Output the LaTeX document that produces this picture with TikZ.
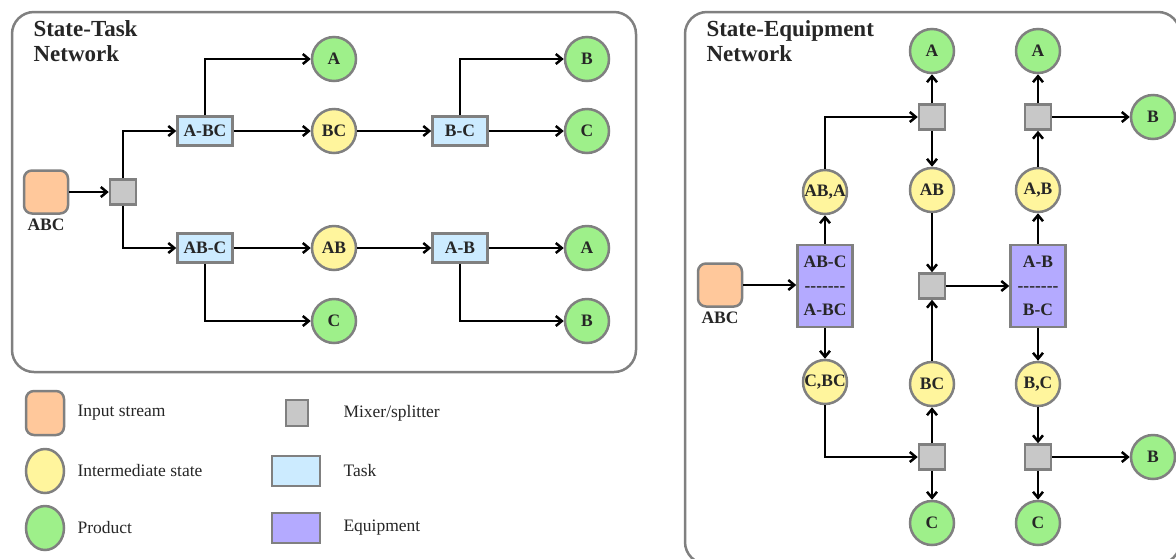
\documentclass[tikz,border=0pt]{standalone}
\usepackage{fontspec}
\setmainfont{Liberation Serif}
\usetikzlibrary{arrows.meta,positioning,shapes.geometric}
\definecolor{edge}{RGB}{128,128,128}
\definecolor{ink}{RGB}{38,38,38}
\definecolor{inflow}{RGB}{255,200,155}
\definecolor{interm}{RGB}{255,245,157}
\definecolor{prodgreen}{RGB}{158,240,138}
\definecolor{mixgray}{RGB}{200,200,200}
\definecolor{taskblue}{RGB}{204,235,255}
\definecolor{equip}{RGB}{180,170,255}
\newcommand{\lbl}{\fontsize{17.5}{24}\selectfont\bfseries\color{ink}}
\newcommand{\ttl}{\fontsize{23}{25}\selectfont\bfseries\color{ink}}
\newcommand{\lgd}{\fontsize{17.5}{20}\selectfont\color{ink}}
\newcommand{\sepline}{{-}{-}{-}{-}{-}{-}{-}}

\begin{document}
\begin{tikzpicture}[x=1pt,y=-1pt,
    >={Straight Barb[length=6pt,width=10pt]},
    flow/.style={line width=2.5pt,->},
    panel/.style={draw=edge,line width=2.5pt,rounded corners=22pt},
    feed/.style={rectangle,draw=edge,line width=2.5pt,fill=inflow,rounded corners=8pt,minimum width=44pt,minimum height=43pt},
    state/.style={circle,draw=edge,line width=2.5pt,fill=interm,minimum size=44pt,inner sep=0pt,font=\lbl},
    prod/.style={state,fill=prodgreen},
    mix/.style={rectangle,draw=edge,line width=2.5pt,fill=mixgray,minimum width=26pt,minimum height=25pt,inner sep=0pt},
    task/.style={rectangle,draw=edge,line width=2.5pt,fill=taskblue,minimum width=55pt,minimum height=29pt,inner sep=0pt,font=\lbl},
    unit/.style={task,fill=equip,minimum height=82pt,align=center}]
  \useasboundingbox (0,0) rectangle (1176,558);

  % state-task network
  \draw[panel] (12,12) rectangle (636,372);
  \node[anchor=north west,align=left,font=\ttl] (ti1) at (30,17) {State-Task\\Network};
  \node[feed] (in1) at (46,192) {};
  \node[font=\lbl] (la1) [below=1pt of in1] {ABC};
  \node[mix] (mx1) at (123,192) {};
  \node[task] (t1) at (205,131) {A-BC};
  \node[task] (t2) at (205,248) {AB-C};
  \node[prod] (p1) at (334,59) {A};
  \node[state] (s1) at (334,131) {BC};
  \node[state] (s2) at (334,248) {AB};
  \node[prod] (p2) at (334,321) {C};
  \node[task] (t3) at (460,131) {B-C};
  \node[task] (t4) at (460,248) {A-B};
  \node[prod] (p3) at (587,59) {B};
  \node[prod] (p4) at (587,131) {C};
  \node[prod] (p5) at (587,248) {A};
  \node[prod] (p6) at (587,321) {B};
  \draw[flow] (in1) -- (mx1);
  \draw[flow] (mx1) |- (t1);
  \draw[flow] (mx1) |- (t2);
  \draw[flow] (t1) |- (p1);
  \draw[flow] (t1) -- (s1);
  \draw[flow] (s1) -- (t3);
  \draw[flow] (t3) |- (p3);
  \draw[flow] (t3) -- (p4);
  \draw[flow] (t2) -- (s2);
  \draw[flow] (t2) |- (p2);
  \draw[flow] (s2) -- (t4);
  \draw[flow] (t4) -- (p5);
  \draw[flow] (t4) |- (p6);

  % state-equipment network
  \draw[panel] (685,12) rectangle (1180,564);
  \node[anchor=north west,align=left,font=\ttl] (ti2) at (703,17) {State-Equipment\\Network};
  \node[feed] (in2) at (720,285) {};
  \node[font=\lbl] (la2) [below=1pt of in2] {ABC};
  \node[unit] (u1) at (825,286) {AB-C\\\sepline\\A-BC};
  \node[unit] (u2) at (1038,286) {A-B\\\sepline\\B-C};
  \node[state] (e1) at (825,192) {AB,A};
  \node[state] (e2) at (932,190) {AB};
  \node[state] (e3) at (1038,190) {A,B};
  \node[state] (e4) at (825,382) {C,BC};
  \node[state] (e5) at (932,384) {BC};
  \node[state] (e6) at (1038,384) {B,C};
  \node[mix] (m1) at (932,117) {};
  \node[mix] (m2) at (1038,117) {};
  \node[mix] (m3) at (932,286) {};
  \node[mix] (m4) at (932,457) {};
  \node[mix] (m5) at (1038,457) {};
  \node[prod] (q1) at (932,51) {A};
  \node[prod] (q2) at (1038,51) {A};
  \node[prod] (q3) at (1153,117) {B};
  \node[prod] (q4) at (932,523) {C};
  \node[prod] (q5) at (1038,523) {C};
  \node[prod] (q6) at (1153,457) {B};
  \draw[flow] (in2) -- (u1.west |- in2);
  \draw[flow] (u1) -- (e1);
  \draw[flow] (e1) |- (m1);
  \draw[flow] (m1) -- (q1);
  \draw[flow] (m1) -- (e2);
  \draw[flow] (e2) -- (m3);
  \draw[flow] (m3) -- (u2.west |- m3);
  \draw[flow] (u1) -- (e4);
  \draw[flow] (e4) |- (m4);
  \draw[flow] (m4) -- (e5);
  \draw[flow] (e5) -- (m3);
  \draw[flow] (m4) -- (q4);
  \draw[flow] (u2) -- (e3);
  \draw[flow] (e3) -- (m2);
  \draw[flow] (m2) -- (q2);
  \draw[flow] (m2) -- (q3);
  \draw[flow] (u2) -- (e6);
  \draw[flow] (e6) -- (m5);
  \draw[flow] (m5) -- (q5);
  \draw[flow] (m5) -- (q6);

  % legend
  \node[feed,minimum width=38pt,minimum height=44pt] (lg1) at (45,413) {};
  \node[state,minimum width=38pt,minimum height=44pt,ellipse] (lg2) at (45,471) {};
  \node[prod,minimum width=38pt,minimum height=44pt,ellipse] (lg3) at (45,528) {};
  \node[mix,minimum width=22pt,minimum height=26pt] (lg4) at (297,413) {};
  \node[task,minimum width=48pt,minimum height=30pt] (lg5) at (296,471) {};
  \node[unit,minimum width=48pt,minimum height=30pt] (lg6) at (296,528) {};
  \node[anchor=west,font=\lgd] (tx1) at (74,413) {Input stream};
  \node[anchor=west,font=\lgd] (tx2) at (74,471) {Intermediate state};
  \node[anchor=west,font=\lgd] (tx3) at (74,528) {Product};
  \node[anchor=west,font=\lgd] (tx4) at (340,413) {Mixer/splitter};
  \node[anchor=west,font=\lgd] (tx5) at (340,471) {Task};
  \node[anchor=west,font=\lgd] (tx6) at (340,528) {Equipment};
\end{tikzpicture}
\end{document}
